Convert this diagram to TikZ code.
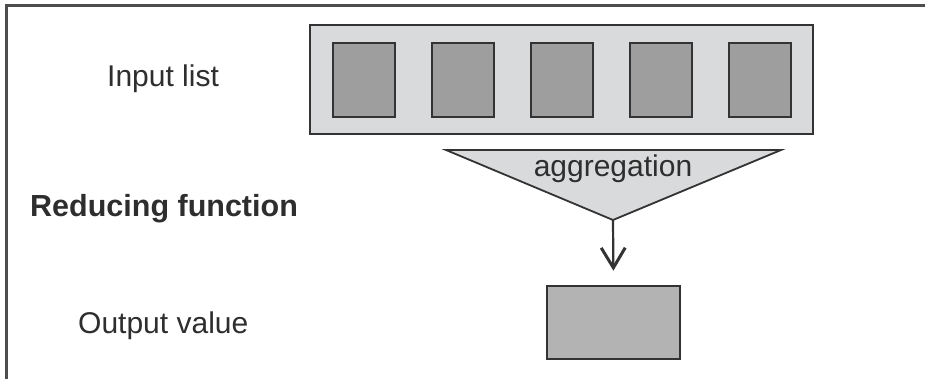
\documentclass[tikz,border=0pt]{standalone}
\usepackage{fontspec}
\setmainfont{Liberation Sans}
\usetikzlibrary{arrows.meta}
\definecolor{txt}{HTML}{2E2E2E}
\definecolor{frame}{HTML}{4D4D4D}
\definecolor{light}{HTML}{D9DADB}
\definecolor{mid}{HTML}{9D9E9D}
\definecolor{outfill}{HTML}{B3B3B3}
\definecolor{edge}{HTML}{333333}
\tikzset{
  lbl/.style={inner sep=0pt, anchor=base west, text=txt, font=\fontsize{30}{36}\selectfont},
  listbox/.style={draw=edge, line width=1.8pt, fill=light, minimum width=503pt, minimum height=109pt, inner sep=0pt},
  itembox/.style={draw=edge, line width=2.4pt, fill=mid, minimum width=62pt, minimum height=74pt, inner sep=0pt},
  outbox/.style={draw=edge, line width=2.6pt, fill=outfill, minimum width=133pt, minimum height=73pt, inner sep=0pt},
  funnel/.style={draw=edge, line width=1.8pt, fill=light, line join=miter},
  flow/.style={draw=edge, line width=2.2pt, -{Straight Barb[length=20pt,width=24pt,line width=3pt]}},
}
\begin{document}
\begin{tikzpicture}[x=1pt,y=-1pt]
\useasboundingbox (0,0) rectangle (925,379);
\fill[white] (0,0) rectangle (925,379);
% frame (top and left sides)
\draw[frame, line width=3pt] (6,379) -- (6,6) -- (925,6);
% labels
\node[lbl] (inlbl) at (107,87) {Input list};
\node[lbl, font=\fontsize{30.5}{36}\selectfont\bfseries] (redlbl) at (30,217) {Reducing function};
\node[lbl] (outlbl) at (78,333) {Output value};
% input list
\node[listbox] (list) at (561.5,79.5) {};
\foreach \i/\x in {1/364,2/463,3/562,4/661,5/760}{
  \node[itembox] (item\i) at (\x,80) {};
}
% aggregation funnel
\coordinate (tl) at (446,150);
\coordinate (tr) at (781,150);
\coordinate (apex) at (613,220);
\draw[funnel] (tl) -- (tr) -- (apex) -- cycle;
\node[inner sep=0pt, anchor=base, text=txt, font=\fontsize{30}{36}\selectfont] (agg) at (613,177) {aggregation};
% output
\node[outbox] (out) at (613.5,322.5) {};
\draw[flow, shorten >=14pt] (apex) -- (out.north);
\end{tikzpicture}
\end{document}
